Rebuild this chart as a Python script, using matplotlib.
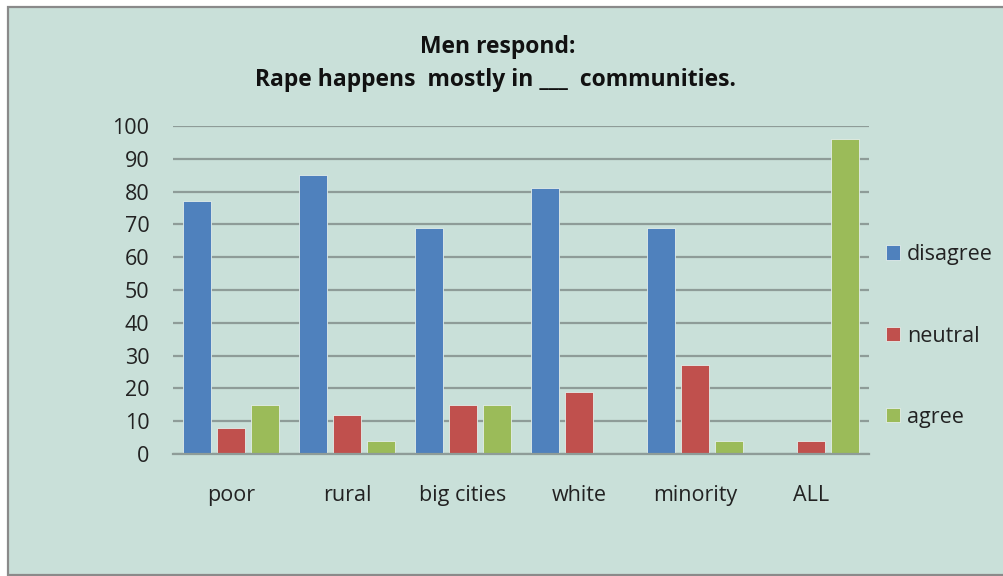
import matplotlib
matplotlib.use("Agg")
import matplotlib.pyplot as plt
import numpy as np
from matplotlib.patches import Rectangle

categories = ["poor", "rural", "big cities", "white", "minority", "ALL"]
disagree = [77, 85, 69, 81, 69, 0]
neutral = [8, 12, 15, 19, 27, 4]
agree = [15, 4, 15, 0, 4, 96]
series_names = ["disagree", "neutral", "agree"]
yticks = [0, 10, 20, 30, 40, 50, 60, 70, 80, 90, 100]

colors = ["#4F81BD", "#C0504D", "#9BBB59"]
bg = "#C9E0D9"
grid_c = "#8E9C98"

plt.rcParams["font.family"] = ["Open Sans", "DejaVu Sans"]

W, H = 1004, 576
fig = plt.figure(figsize=(W / 100, H / 100), dpi=100, facecolor="white")

# chart area panel with grey frame
panel = Rectangle((8 / W, 1 / H), 1.0, (H - 8) / H, transform=fig.transFigure,
                  facecolor=bg, edgecolor="#8A8A8A", linewidth=1.6, zorder=-10)
fig.patches.append(panel)

ax = fig.add_axes([173 / W, (H - 454) / H, 696 / W, 328 / H])
ax.set_facecolor("none")

x = np.arange(len(categories))
bw = 0.241
step = 0.293
for i, (vals, name) in enumerate(zip([disagree, neutral, agree], series_names)):
    ax.bar(x + (i - 1) * step, vals, width=bw, color=colors[i], label=name,
           edgecolor="#E4EEEA", linewidth=0.6, zorder=3)

ax.set_xlim(-0.5, len(categories) - 0.5)
ax.set_ylim(0, 100)
ax.set_yticks(yticks)
ax.set_yticklabels([str(v) for v in yticks])
ax.set_xticks(x)
ax.set_xticklabels(categories)
ax.yaxis.grid(True, color=grid_c, linewidth=1.6, zorder=1)
ax.set_axisbelow(True)
for s in ["left", "right", "top"]:
    ax.spines[s].set_visible(False)
ax.spines["bottom"].set_color(grid_c)
ax.spines["bottom"].set_linewidth(1.6)
ax.spines["bottom"].set_zorder(4)
ax.tick_params(axis="both", length=0, labelsize=15.5, colors="#222222")
ax.tick_params(axis="y", pad=17)
ax.tick_params(axis="x", pad=22)

fig.text(498 / W, 1 - 47 / H, "Men respond:", ha="center", va="center",
         fontsize=16.5, fontweight="bold", color="#111111")
fig.text(495 / W, 1 - 80 / H, "Rape happens  mostly in ___  communities.",
         ha="center", va="center", fontsize=16.5, fontweight="bold", color="#111111")

leg = fig.legend(loc="center left", bbox_to_anchor=(877 / W, 1 - 336 / H),
                 frameon=False, fontsize=15.5, handlelength=0.65, handleheight=0.65,
                 handletextpad=0.35, labelspacing=2.8, borderaxespad=0)
for t in leg.get_texts():
    t.set_color("#222222")

fig.savefig("out.png", dpi=100, facecolor="white")
